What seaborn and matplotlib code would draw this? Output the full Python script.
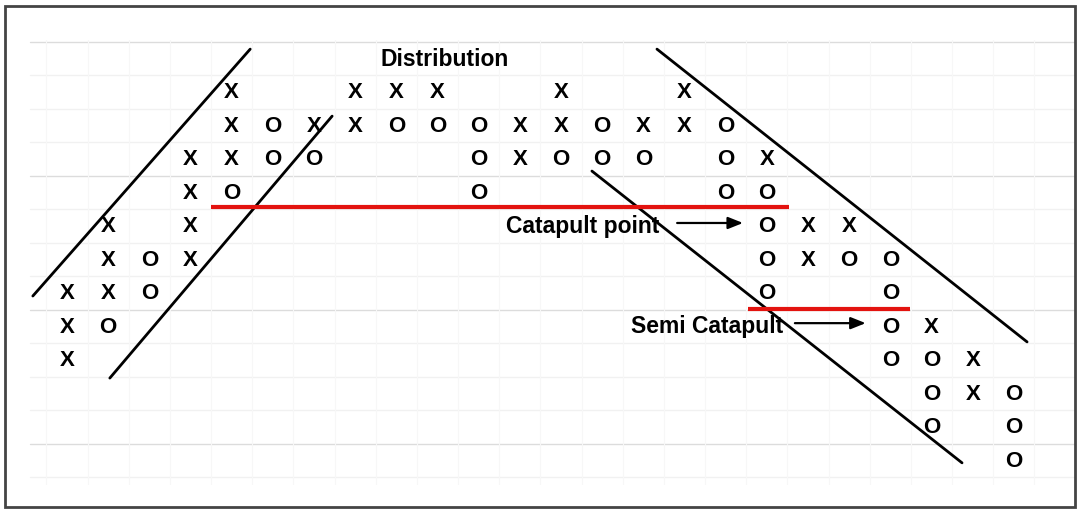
import matplotlib
matplotlib.use("Agg")
import matplotlib.pyplot as plt
import numpy as np
import pandas as pd
import seaborn as sns
from matplotlib.patches import Rectangle

sns.set_theme(style="white")
plt.rcParams["font.family"] = ["Liberation Sans", "DejaVu Sans"]

# point & figure boxes: column index, row index (0 = top row), symbol
mark_cols = [4, 7, 8, 9, 12, 15,
             4, 5, 6, 7, 8, 9, 10, 11, 12, 13, 14, 15, 16,
             3, 4, 5, 6, 10, 11, 12, 13, 14, 16, 17,
             3, 4, 10, 16, 17,
             1, 3, 17, 18, 19,
             1, 2, 3, 17, 18, 19, 20,
             0, 1, 2, 17, 20,
             0, 1, 20, 21,
             0, 20, 21, 22,
             21, 22, 23,
             21, 23,
             23]
mark_rows = [0] * 6 + [1] * 13 + [2] * 11 + [3] * 5 + [4] * 5 + [5] * 7 + [6] * 5 + [7] * 4 + [8] * 4 + [9] * 3 + [10] * 2 + [11]
mark_syms = ["X", "X", "X", "X", "X", "X",
             "X", "O", "X", "X", "O", "O", "O", "X", "X", "O", "X", "X", "O",
             "X", "X", "O", "O", "O", "X", "O", "O", "O", "O", "X",
             "X", "O", "O", "O", "O",
             "X", "X", "O", "X", "X",
             "X", "O", "X", "O", "X", "O", "O",
             "X", "X", "O", "O", "O",
             "X", "O", "O", "X",
             "X", "O", "O", "X",
             "O", "X", "O",
             "O", "O",
             "O"]

# trend lines (column, row) end points
trend_names = ["up_top", "up_top", "up_low", "up_low", "down_top", "down_top", "down_low", "down_low"]
trend_cols = [-0.83, 4.45, 1.04, 6.44, 14.33, 23.32, 12.75, 21.74]
trend_rows = [6.09, -1.28, 8.54, 0.72, -1.28, 7.46, 2.36, 11.07]

# red catapult levels
level_rows = [3.43, 6.48]
level_starts = [3.50, 16.54]
level_ends = [17.54, 20.48]

labels = ["Distribution", "Catapult point", "Semi Catapult"]
label_cols = [9.18, 14.40, 17.40]
label_rows = [-1.0, 4.0, 6.98]
arrow_starts = [None, 14.82, 17.68]
arrow_ends = [None, 16.42, 19.40]
arrow_rows = [None, 3.91, 6.90]

COL_PX, ROW_PX = 41.17, 33.5
X0, Y0 = 67, 93
W, H = 1081, 510

fig = plt.figure(figsize=(W / 100, H / 100), dpi=100)
ax = fig.add_axes([0, 0, 1, 1])

# faint chart paper grid
for r in np.arange(-1.5, 11.6, 1.0):
    strong = (r + 1.5) % 4 == 0
    ax.axhline(r, xmin=0.028, xmax=0.994, color="#dcdcdc" if strong else "#f1f1f1",
               lw=1.0, zorder=0)
for c in np.arange(-0.5, 24.0, 1.0):
    ax.axvline(c, ymin=0.05, ymax=0.92, color="#f7f7f7", lw=0.8, zorder=0)

trend = pd.DataFrame({"line": trend_names, "col": trend_cols, "row": trend_rows})
sns.lineplot(data=trend, x="col", y="row", units="line", estimator=None,
             color="black", lw=2.0, sort=False, ax=ax, legend=False)
ax.set_xlim(-X0 / COL_PX, (W - X0) / COL_PX)
ax.set_ylim((H - Y0) / ROW_PX, -Y0 / ROW_PX)
ax.axis("off")

for r, a, b in zip(level_rows, level_starts, level_ends):
    ax.plot([a, b], [r, r], color="#e3130f", lw=3.0, solid_capstyle="butt", zorder=2)

for c, r, s in zip(mark_cols, mark_rows, mark_syms):
    ax.text(c, r, s, ha="center", va="center", fontsize=16, fontweight="bold",
            color="black", zorder=3)

for i, txt in enumerate(labels):
    ha = "center" if i == 0 else "right"
    ax.text(label_cols[i], label_rows[i], txt, ha=ha, va="center", fontsize=16.5,
            fontweight="bold", color="black", zorder=3)
    if arrow_starts[i] is not None:
        ax.annotate("", xy=(arrow_ends[i], arrow_rows[i]), xytext=(arrow_starts[i], arrow_rows[i]),
                    arrowprops=dict(arrowstyle="-|>,head_length=0.5,head_width=0.2",
                                    color="black", lw=1.6,
                                    mutation_scale=18, shrinkA=0, shrinkB=0))

fig.patches.append(Rectangle((5 / W, 2 / H), 1070 / W, 1 - 9 / H, transform=fig.transFigure,
                             fill=False, edgecolor="#444444", lw=2.0))

fig.savefig("out.png", dpi=100)
